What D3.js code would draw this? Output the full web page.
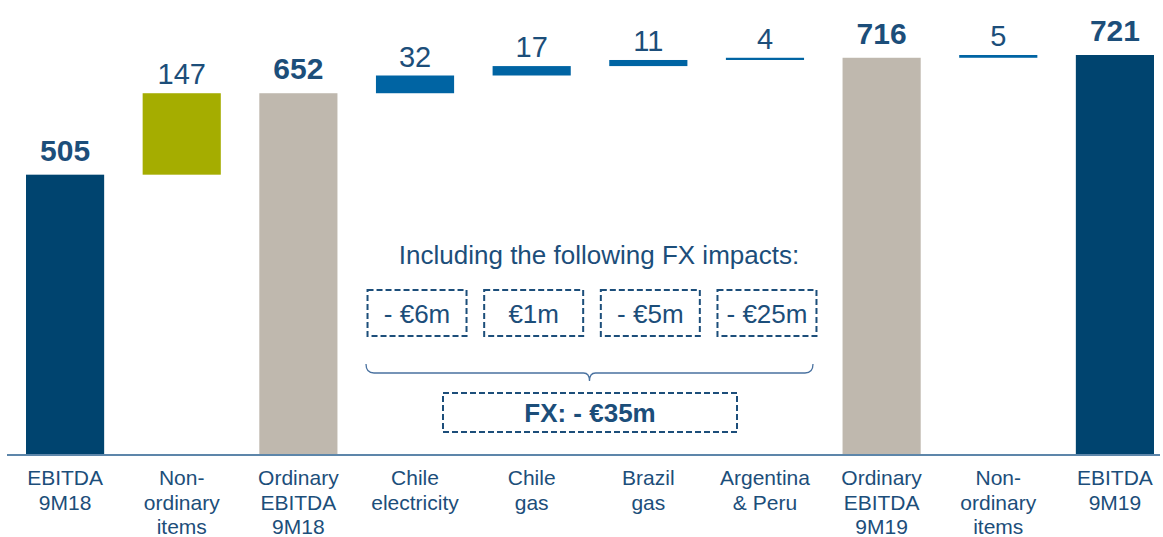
<!DOCTYPE html>
<html>
<head>
<meta charset="utf-8">
<script src="https://cdn.jsdelivr.net/npm/d3@7"></script>
<style>
  body { margin: 0; background: #fff; }
  text { font-family: "Liberation Sans", Arial, sans-serif; }
</style>
</head>
<body>
<div id="chart"></div>
<script>
// width and height
var w = 1163;
var h = 537;

// data
var categories = [
  ["EBITDA", "9M18"],
  ["Non-", "ordinary", "items"],
  ["Ordinary", "EBITDA", "9M18"],
  ["Chile", "electricity"],
  ["Chile", "gas"],
  ["Brazil", "gas"],
  ["Argentina", "& Peru"],
  ["Ordinary", "EBITDA", "9M19"],
  ["Non-", "ordinary", "items"],
  ["EBITDA", "9M19"]
];
var values = [505, 147, 652, 32, 17, 11, 4, 716, 5, 721];
// "total" bars start at zero, "step" bars float on the running sum
var kinds = ["total", "nonord", "ordinary", "step", "step", "step", "step", "ordinary", "step", "total"];
var fxLabels = ["- €6m", "€1m", "- €5m", "- €25m"];
var fxTotal = "FX: - €35m";
var fxTitle = "Including the following FX impacts:";

var colors = {total: "#00446f", nonord: "#a5ad00", ordinary: "#bfb8ae", step: "#0064a3"};
var textColor = "#1c4e7a";

// build waterfall rows
var running = 0;
var rows = values.map(function (v, i) {
  var k = kinds[i];
  var y0, y1;
  if (k === "total" || k === "ordinary") { y0 = 0; y1 = v; running = v; }
  else { y0 = running; y1 = running + v; running = y1; }
  return {i: i, value: v, kind: k, y0: y0, y1: y1, label: categories[i]};
});

var xScale = d3.scaleBand()
  .domain(d3.range(values.length))
  .range([26, 1154])
  .paddingInner(0.33)
  .paddingOuter(0);

var yScale = d3.scaleLinear()
  .domain([0, 721])
  .range([454.5, 55]);

var svg = d3.select("#chart")
  .append("svg")
  .attr("width", w)
  .attr("height", h);

// bars
svg.selectAll("rect.bar")
  .data(rows)
  .enter()
  .append("rect")
  .attr("class", "bar")
  .attr("x", function (d) { return xScale(d.i); })
  .attr("width", xScale.bandwidth())
  .attr("y", function (d) { return yScale(d.y1); })
  .attr("height", function (d) { return Math.max(2, yScale(d.y0) - yScale(d.y1)); })
  .attr("fill", function (d) { return colors[d.kind]; });

// baseline
svg.append("line")
  .attr("x1", 7).attr("x2", 1160)
  .attr("y1", yScale(0) + 0.5).attr("y2", yScale(0) + 0.5)
  .attr("stroke", "#5d86aa")
  .attr("stroke-width", 2);

// value labels
function isBold(d) { return d.kind === "total" || d.kind === "ordinary"; }

svg.selectAll("text.val")
  .data(rows)
  .enter()
  .append("text")
  .attr("class", "val")
  .attr("x", function (d) { return xScale(d.i) + xScale.bandwidth() / 2; })
  .attr("y", function (d) { return yScale(d.y1) - (isBold(d) ? 14 : 9); })
  .attr("text-anchor", "middle")
  .attr("font-size", function (d) { return isBold(d) ? "30px" : "29px"; })
  .attr("font-weight", function (d) { return isBold(d) ? "bold" : "normal"; })
  .attr("fill", textColor)
  .text(function (d) { return d.value; });

// category labels
var cat = svg.selectAll("text.cat")
  .data(rows)
  .enter()
  .append("text")
  .attr("class", "cat")
  .attr("text-anchor", "middle")
  .attr("font-size", "21px")
  .attr("fill", textColor);

cat.selectAll("tspan")
  .data(function (d) {
    return d.label.map(function (t, j) { return {t: t, j: j, i: d.i}; });
  })
  .enter()
  .append("tspan")
  .attr("x", function (d) { return xScale(d.i) + xScale.bandwidth() / 2; })
  .attr("y", function (d) { return 485 + d.j * 24.5; })
  .text(function (d) { return d.t; });

// FX annotation
svg.append("text")
  .attr("x", 599)
  .attr("y", 264)
  .attr("text-anchor", "middle")
  .attr("font-size", "26px")
  .attr("fill", textColor)
  .text(fxTitle);

var fxIdx = [3, 4, 5, 6];
var boxW = 99, boxH = 46;
var fx = svg.selectAll("g.fx")
  .data(fxLabels)
  .enter()
  .append("g")
  .attr("class", "fx")
  .attr("transform", function (d, i) {
    var cx = xScale(fxIdx[i]) + xScale.bandwidth() / 2 + 2;
    return "translate(" + (cx - boxW / 2) + ",290)";
  });

fx.append("rect")
  .attr("width", boxW)
  .attr("height", boxH)
  .attr("fill", "none")
  .attr("stroke", textColor)
  .attr("stroke-width", 2)
  .attr("stroke-dasharray", "6,3");

fx.append("text")
  .attr("x", boxW / 2)
  .attr("y", 33)
  .attr("text-anchor", "middle")
  .attr("font-size", "26px")
  .attr("fill", textColor)
  .text(function (d) { return d; });

// brace
var bx0 = 366, bx1 = 813, bm = 589.5, by = 364;
svg.append("path")
  .attr("d", "M" + bx0 + "," + by +
    " Q" + bx0 + "," + (by + 9) + " " + (bx0 + 8) + "," + (by + 9) +
    " L" + (bm - 6) + "," + (by + 9) +
    " Q" + bm + "," + (by + 9) + " " + bm + "," + (by + 17) +
    " Q" + bm + "," + (by + 9) + " " + (bm + 6) + "," + (by + 9) +
    " L" + (bx1 - 8) + "," + (by + 9) +
    " Q" + bx1 + "," + (by + 9) + " " + bx1 + "," + by)
  .attr("fill", "none")
  .attr("stroke", "#4a72a0")
  .attr("stroke-width", 1.3);

// FX total box
var tot = svg.append("g").attr("transform", "translate(443,393)");
tot.append("rect")
  .attr("width", 294)
  .attr("height", 39)
  .attr("fill", "none")
  .attr("stroke", textColor)
  .attr("stroke-width", 2)
  .attr("stroke-dasharray", "6,3");
tot.append("text")
  .attr("x", 147)
  .attr("y", 29)
  .attr("text-anchor", "middle")
  .attr("font-size", "26px")
  .attr("font-weight", "bold")
  .attr("fill", textColor)
  .text(fxTotal);
</script>
</body>
</html>
